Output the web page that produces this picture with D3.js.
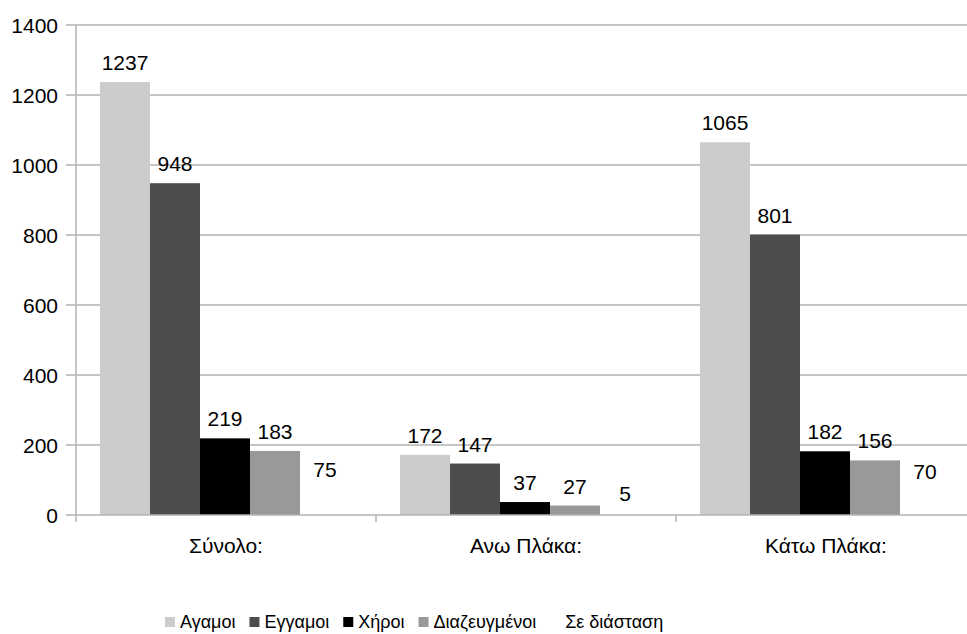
<!DOCTYPE html>
<meta charset="utf-8">
<style>
body { margin: 0; background: #fff; }
svg { display: block; font-family: "Liberation Sans", Arial, sans-serif; }
.grid line { stroke: #b3b3b3; stroke-width: 1.5px; }
.val { font-size: 21px; fill: #000; text-anchor: middle; }
</style>
<body>
<svg></svg>
</body>
<script src="https://cdn.jsdelivr.net/npm/d3@7"></script>
<script>

var groups = ["Σύνολο:", "Ανω Πλάκα:", "Κάτω Πλάκα:"];
var series = ["Αγαμοι", "Εγγαμοι", "Χήροι", "Διαζευγμένοι", "Σε διάσταση"];
var colors = ["#cccccc", "#4d4d4d", "#000000", "#999999", "#ffffff"];
var agamoi = [1237, 172, 1065];
var eggamoi = [948, 147, 801];
var xiroi = [219, 37, 182];
var diazeugmenoi = [183, 27, 156];
var diastasi = [75, 5, 70];
var yTicks = [0, 200, 400, 600, 800, 1000, 1200, 1400];

var values = [agamoi, eggamoi, xiroi, diazeugmenoi, diastasi];

var width = 967, height = 634;
var svg = d3.select("svg").attr("width", width).attr("height", height);

var x0 = d3.scaleBand().domain(groups).range([76, 976]).padding(0);
var x1 = d3.scaleBand().domain(series).range([24, 274]).padding(0);
var y = d3.scaleLinear().domain([0, 1400]).range([515, 25]);

// grid + y ticks
var grid = svg.append("g").attr("class", "grid");
grid.selectAll("line")
  .data(yTicks.slice(1))
  .enter().append("line")
    .attr("x1", 66)
    .attr("x2", width)
    .attr("y1", function(d) { return y(d); })
    .attr("y2", function(d) { return y(d); });

svg.append("g").selectAll("text")
  .data(yTicks)
  .enter().append("text")
    .attr("x", 58)
    .attr("y", function(d) { return y(d); })
    .attr("dy", "0.36em")
    .attr("text-anchor", "end")
    .attr("font-size", 21)
    .text(function(d) { return d; });

// bars
var rows = [];
series.forEach(function(s, i) {
  groups.forEach(function(g, j) {
    rows.push({ series: s, group: g, value: values[i][j], color: colors[i] });
  });
});

svg.append("g").selectAll("rect")
  .data(rows)
  .enter().append("rect")
    .attr("x", function(d) { return x0(d.group) + x1(d.series); })
    .attr("y", function(d) { return y(d.value); })
    .attr("width", x1.bandwidth())
    .attr("height", function(d) { return y(0) - y(d.value); })
    .attr("fill", function(d) { return d.color; });

// axes drawn over bars
var axes = svg.append("g").attr("class", "grid");
axes.append("line")
  .attr("x1", 66).attr("x2", width)
  .attr("y1", y(0)).attr("y2", y(0));
axes.append("line")
  .attr("x1", 76).attr("x2", 76)
  .attr("y1", y(1400)).attr("y2", 522);
axes.selectAll("line.xt")
  .data(groups.slice(1))
  .enter().append("line")
    .attr("class", "xt")
    .attr("x1", function(d) { return x0(d); })
    .attr("x2", function(d) { return x0(d); })
    .attr("y1", 515).attr("y2", 522);

svg.append("g").selectAll("text")
  .data(rows)
  .enter().append("text")
    .attr("class", "val")
    .attr("x", function(d) { return x0(d.group) + x1(d.series) + x1.bandwidth() / 2; })
    .attr("y", function(d) { return y(d.value) - 12; })
    .text(function(d) { return d.value; });

// category labels
svg.append("g").selectAll("text")
  .data(groups)
  .enter().append("text")
    .attr("x", function(d) { return x0(d) + x0.bandwidth() / 2; })
    .attr("y", 553)
    .attr("text-anchor", "middle")
    .attr("font-size", 21)
    .text(function(d) { return d; });

// legend
var legend = svg.append("g").attr("transform", "translate(165,628)");
var lx = 0;
series.forEach(function(s, i) {
  var item = legend.append("g").attr("transform", "translate(" + lx + ",0)");
  item.append("rect")
    .attr("x", 0).attr("y", -11)
    .attr("width", 10).attr("height", 10)
    .attr("fill", colors[i]);
  var t = item.append("text")
    .attr("x", 15).attr("y", 0)
    .attr("font-size", 18)
    .text(s);
  lx += 15 + t.node().getComputedTextLength() + 14;
});

</script>
